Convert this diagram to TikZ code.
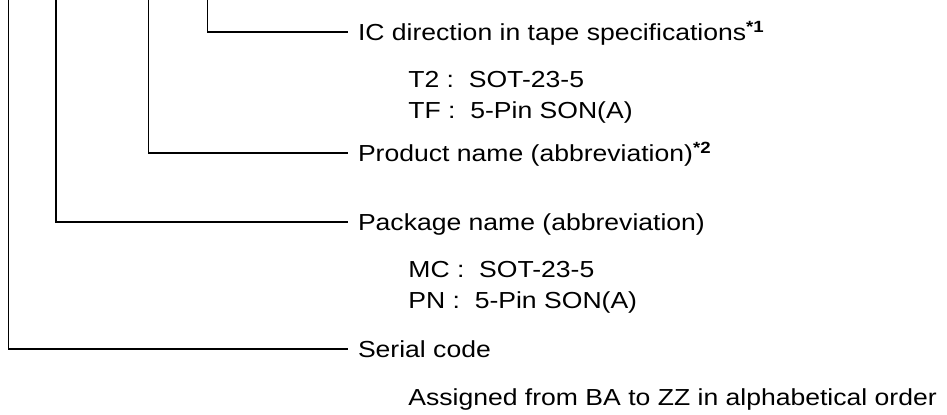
\documentclass[tikz,border=0pt]{standalone}
\usepackage{fontspec}
\setmainfont{Liberation Sans}[FakeStretch=1.145]
\begin{document}
\begin{tikzpicture}[x=0.02cm, y=-0.02cm, line width=1pt,
    heading/.style ={anchor=west, inner xsep=5.2pt, inner ysep=0pt, text height=9.45pt, text depth=0pt, font=\fontsize{13.2}{15}\selectfont},
    choice/.style ={anchor=west, inner sep=0pt, text height=9.45pt, text depth=0pt, font=\fontsize{13.2}{15}\selectfont}]
   \useasboundingbox (0,0) rectangle (947,415);
   \coordinate (A) at (8.5,0);
   \coordinate (B) at (56,0);
   \coordinate (C) at (148.5,0);
   \coordinate (D) at (207.5,0);
   \node[heading] (dir)  at (348,32)  {IC direction in tape specifications\textsuperscript{\textbf{*1}}};
   \node[choice] (t2)  at (407.5,79)  {T2 :~~SOT-23-5};
   \node[choice] (tf)  at (407.5,110)  {TF :~~5-Pin SON(A)};
   \node[heading] (prod)  at (348,153)  {Product name (abbreviation)\textsuperscript{\textbf{*2}}};
   \node[heading] (pkg)  at (348,222)  {Package name (abbreviation)};
   \node[choice] (mc)  at (407.5,269)  {MC :~~SOT-23-5};
   \node[choice] (pn)  at (407.5,300)  {PN :~~5-Pin SON(A)};
   \node[heading] (ser)  at (348,349)  {Serial code};
   \node[choice] (asg)  at (407.5,397)  {Assigned from BA to ZZ in alphabetical order};
   \draw (D) |- (dir.west);
   \draw (C) |- (prod.west);
   \draw (B) |- (pkg.west);
   \draw (A) |- (ser.west);
 \end{tikzpicture}
\end{document}
